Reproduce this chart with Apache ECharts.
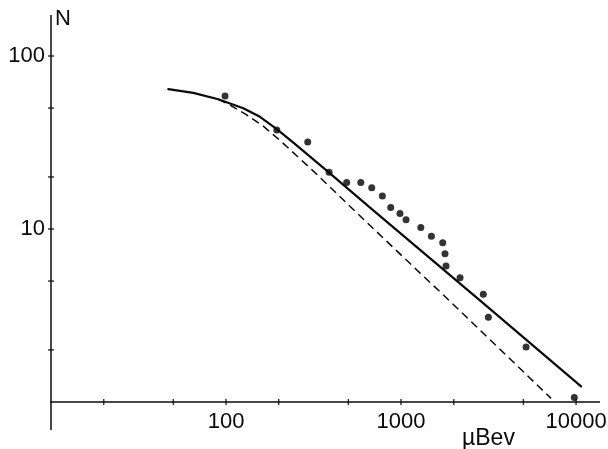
<!DOCTYPE html>
<html>
<head>
<meta charset="utf-8">
<script src="https://cdn.jsdelivr.net/npm/echarts@6/dist/echarts.min.js"></script>
<style>html,body{margin:0;padding:0;background:#fff}#c{width:608px;height:449px}</style>
</head>
<body>
<div id="c"></div>
<script>
// Energy axis (µBev) and counts N
const solidX = [46.8, 65.0, 90.3, 125.5, 156.3, 195, 242.5, 302, 385, 665, 2768, 10680];
const solidY = [64.3, 61.2, 56.2, 49.9, 44.5, 37.8, 31.6, 26.2, 21.3, 13.3, 3.93, 1.23];
const dashedX = [90.4, 105.4, 131.2, 163.3, 204.2, 253.5, 315.5, 392.6, 511.7, 1285, 1710, 7194];
const dashedY = [56.2, 52.0, 45.7, 39.3, 32.4, 26.5, 21.6, 17.5, 13.5, 5.56, 4.24, 1.05];
const dotsX = [98.7, 195, 293, 388, 489, 589, 680, 782, 873, 986, 1068, 1297, 1491, 1730, 1783, 1807, 2173, 2951, 3155, 5180, 9770];
const dotsY = [58.7, 37.3, 31.8, 21.3, 18.6, 18.6, 17.3, 15.5, 13.3, 12.3, 11.3, 10.2, 9.08, 8.33, 7.20, 6.11, 5.23, 4.19, 3.09, 2.08, 1.06];
const xTicks = [20, 50, 100, 200, 500, 1000, 2000, 5000, 10000];
const yTicks = [2, 5, 10, 20, 50, 100];
const xTickLabels = [100, 1000, 10000];
const yTickLabels = [10, 100];
const xRange = [10, 13700];
const yRange = [1, 172.6];
const xAxisLineExt = [7.2, 13700];
const yAxisLineExt = [0.69, 172.6];

const INK = '#0a0a0a';
const FONT = '"Liberation Sans", Arial, sans-serif';
const near = (v, list) => list.some(l => Math.abs(Math.log10(v) - Math.log10(l)) < 1e-6);

const chart = echarts.init(document.getElementById('c'), null, {renderer: 'canvas'});
chart.setOption({
  animation: false,
  backgroundColor: '#fff',
  title: {
    text: 'µBev', left: 462, top: 427, padding: 0,
    textStyle: {fontSize: 23, fontWeight: 'normal', color: INK, fontFamily: FONT}
  },
  grid: {left: 51, right: 8, top: 15, bottom: 47, outerBoundsMode: 'none', containLabel: false},
  xAxis: {
    type: 'log', logBase: 10, min: xRange[0], max: xRange[1],
    axisLine: {show: false}, axisTick: {show: false}, splitLine: {show: false},
    axisLabel: {
      margin: 9, fontSize: 22, color: INK, fontFamily: FONT,
      showMinLabel: true, showMaxLabel: true,
      formatter: v => near(v, xTickLabels) ? String(Math.round(v)) : ''
    }
  },
  yAxis: {
    type: 'log', logBase: 10, min: yRange[0], max: yRange[1],
    name: 'N', nameLocation: 'end', nameGap: 7,
    nameTextStyle: {fontSize: 22, color: INK, fontFamily: FONT, align: 'left', verticalAlign: 'top', padding: [0, 0, 0, 4]},
    axisLine: {show: false}, axisTick: {show: false}, splitLine: {show: false},
    axisLabel: {
      margin: 6, fontSize: 22, color: INK, fontFamily: FONT,
      formatter: v => near(v, yTickLabels) ? String(Math.round(v)) : ''
    }
  },
  series: [
    {
      type: 'line', clip: false, silent: true, showSymbol: false,
      data: xAxisLineExt.map(x => [x, 1]),
      lineStyle: {color: INK, width: 1.5}
    },
    {
      type: 'line', clip: false, silent: true, showSymbol: false,
      data: yAxisLineExt.map(y => [10, y]),
      lineStyle: {color: INK, width: 1.5}
    },
    {
      type: 'scatter', clip: false, silent: true, symbol: 'rect', symbolSize: [1.5, 6],
      data: xTicks.map(x => [x, 1]), itemStyle: {color: INK}
    },
    {
      type: 'scatter', clip: false, silent: true, symbol: 'rect', symbolSize: [6, 1.5],
      data: yTicks.map(y => [10, y]), itemStyle: {color: INK}
    },
    {
      type: 'line', clip: false, silent: true, showSymbol: false, smooth: false,
      data: solidX.map((x, i) => [x, solidY[i]]),
      lineStyle: {color: INK, width: 2.2, join: 'round', cap: 'round'}
    },
    {
      type: 'line', clip: false, silent: true, showSymbol: false, smooth: false,
      data: dashedX.map((x, i) => [x, dashedY[i]]),
      lineStyle: {color: INK, width: 1.5, type: [8, 5]}
    },
    {
      type: 'scatter', clip: false, silent: true, symbol: 'circle', symbolSize: 7,
      data: dotsX.map((x, i) => [x, dotsY[i]]), itemStyle: {color: '#000'}
    }
  ]
});
</script>
</body>
</html>
